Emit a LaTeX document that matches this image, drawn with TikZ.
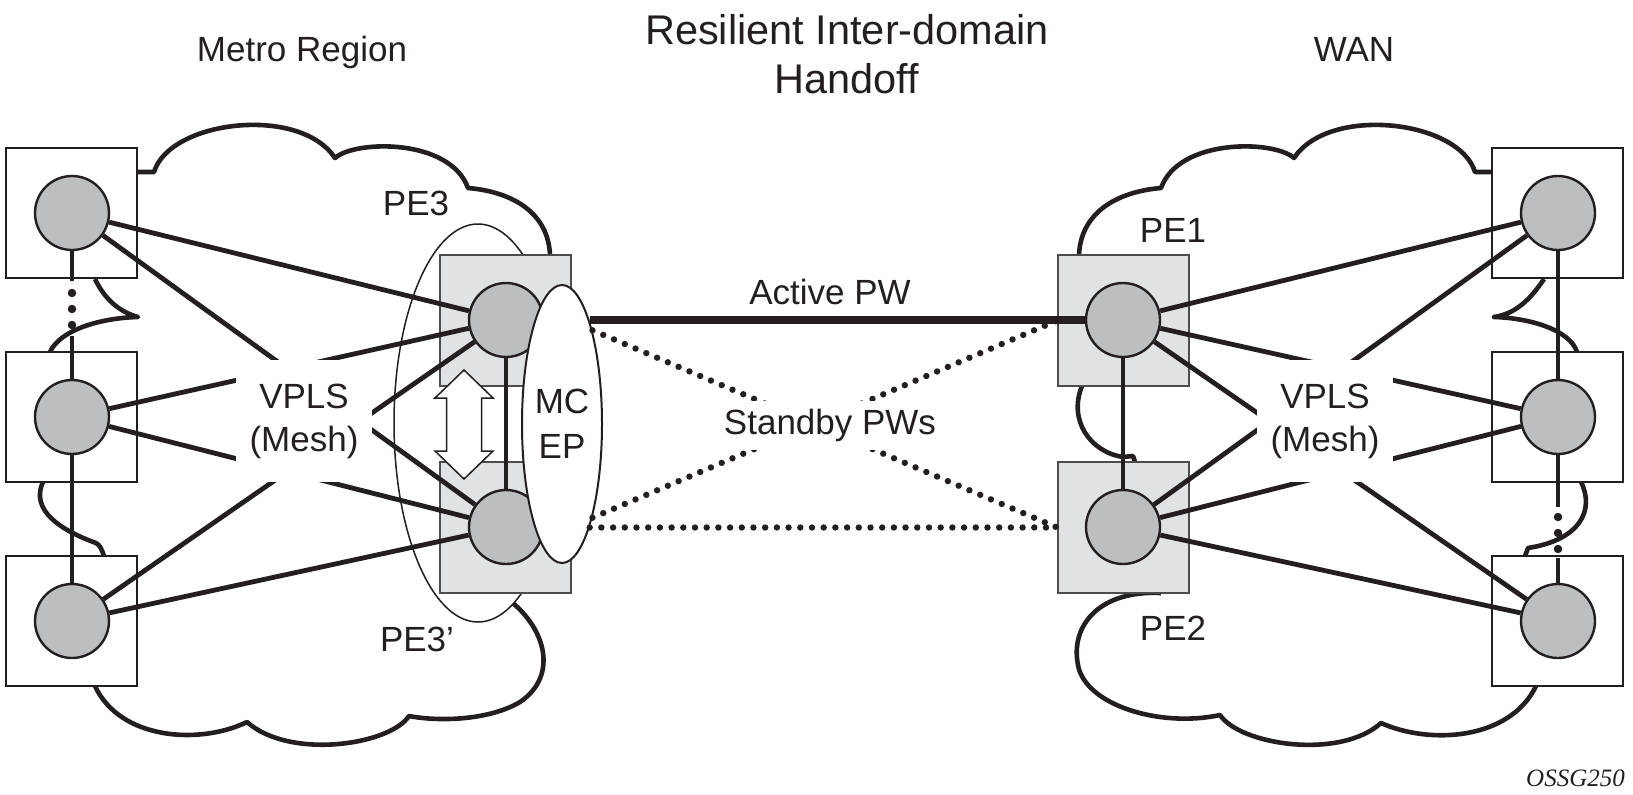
\documentclass[tikz,border=0pt]{standalone}
\usepackage{fontspec}
\setmainfont{Liberation Sans}
\newfontfamily\tnr{Liberation Serif}
\usetikzlibrary{shapes.geometric}
\definecolor{devgray}{RGB}{189,190,192}
\definecolor{boxgray}{RGB}{225,226,228}
\definecolor{ink}{RGB}{35,31,32}
\begin{document}
\begin{tikzpicture}[x=1pt,y=-1pt,
  cloudline/.style={line width=4.6pt, draw=ink, line join=round},
  wbox/.style={draw=ink, line width=2pt, fill=white, minimum width=131pt, minimum height=130pt, inner sep=0pt},
  gbox/.style={draw=ink!80, line width=1.6pt, fill=boxgray, minimum width=131pt, minimum height=131pt, inner sep=0pt},
  dev/.style={circle, draw=ink, line width=2.4pt, fill=devgray, minimum size=74pt, inner sep=0pt},
  mesh/.style={line width=4.8pt, draw=ink},
  pw/.style={line width=8pt, draw=ink},
  standby/.style={line width=6.4pt, draw=ink, dash pattern=on 0pt off 11.7pt, line cap=round},
  lbl/.style={font=\fontsize{35}{43}\selectfont, text=ink, align=center, inner sep=0pt},
  dot/.style={circle, fill=ink, inner sep=0pt, minimum size=8.5pt},
]
\useasboundingbox (0,0) rectangle (1633,795);

% clouds, left
\draw[cloudline] (137,172) -- (154,172) .. controls (170,120) and (300,105) .. (335,158) .. controls (355,140) and (450,138) .. (468,188) .. controls (515,192) and (552,215) .. (550,262);
\draw[cloudline] (95,279) .. controls (105,300) and (120,312) .. (138,317) .. controls (100,318) and (60,330) .. (50,352);
\draw[cloudline] (43,482) .. controls (30,510) and (60,530) .. (96,543) .. controls (100,545) and (102,550) .. (104,556);
\draw[cloudline] (505,597) .. controls (545,625) and (560,675) .. (520,702) .. controls (490,720) and (440,722) .. (409,716) .. controls (390,745) and (290,760) .. (247,722) .. controls (200,745) and (120,740) .. (95,686);
% clouds, right
\draw[cloudline] (1492,172) -- (1475,172) .. controls (1459,120) and (1329,105) .. (1294,158) .. controls (1274,140) and (1179,138) .. (1161,188) .. controls (1114,192) and (1077,215) .. (1079,262);
\draw[cloudline] (1082,386) .. controls (1068,420) and (1090,452) .. (1123,457) -- (1133,456) -- (1136,465);
\draw[cloudline] (1544,279) .. controls (1530,300) and (1515,314) .. (1494,317) .. controls (1530,318) and (1570,330) .. (1577,352);
\draw[cloudline] (1581,482) .. controls (1595,510) and (1580,540) .. (1528,548) -- (1525,556);
\draw[cloudline] (1161,593) .. controls (1100,590) and (1070,625) .. (1078,665) .. controls (1085,705) and (1160,728) .. (1220,715) .. controls (1240,745) and (1340,760) .. (1381,723) .. controls (1430,745) and (1510,740) .. (1536,686);

% ring round PE3 and PE3'
\node[ellipse, draw=ink, line width=1.5pt, fill=white, minimum width=168pt, minimum height=398pt, inner sep=0pt] (ring) at (478,423) {};

% boxes
\node[wbox] (bl1) at (71.5,213) {};
\node[wbox] (bl2) at (71.5,417) {};
\node[wbox] (bl3) at (71.5,621) {};
\node[wbox] (br1) at (1557.5,213) {};
\node[wbox] (br2) at (1557.5,417) {};
\node[wbox] (br3) at (1557.5,621) {};
\node[gbox] (g3) at (505.5,320.5) {};
\node[gbox] (g3b) at (505.5,527.5) {};
\node[gbox] (g1) at (1123.5,320.5) {};
\node[gbox] (g2) at (1123.5,527.5) {};

% devices
\node[dev] (l1) at (72,213) {};
\node[dev] (l2) at (72,417) {};
\node[dev] (l3) at (72,621) {};
\node[dev] (r1) at (1558,213) {};
\node[dev] (r2) at (1558,417) {};
\node[dev] (r3) at (1558,621) {};
\node[dev] (p3) at (506,320) {};
\node[dev] (p3b) at (506,527) {};
\node[dev] (p1) at (1123,320) {};
\node[dev] (p2) at (1123,527) {};

% mesh
\foreach \a in {l1,l2,l3} {\foreach \b in {p3,p3b} {\draw[mesh] (\a) -- (\b);}}
\foreach \a in {p1,p2} {\foreach \b in {r1,r2,r3} {\draw[mesh] (\a) -- (\b);}}
\draw[mesh] (p3) -- (p3b);
\draw[mesh] (p1) -- (p2);
\draw[mesh] (l2) -- (l3);
\draw[mesh] (r1) -- (r2);
\coordinate (la) at (72,281);
\coordinate (lb) at (72,336);
\draw[mesh] (l1) -- (la);
\draw[mesh] (lb) -- (l2);
\node[dot] (ld1) at (72,293) {};
\node[dot] (ld2) at (72,309) {};
\node[dot] (ld3) at (72,325) {};
\coordinate (ra) at (1558,507);
\coordinate (rb) at (1558,558);
\draw[mesh] (r2) -- (ra);
\draw[mesh] (rb) -- (r3);
\node[dot] (rd1) at (1558,517) {};
\node[dot] (rd2) at (1558,533) {};
\node[dot] (rd3) at (1558,549) {};

% MC EP
\node[ellipse, draw=ink, line width=2pt, fill=white, minimum width=80pt, minimum height=278pt, lbl, font=\fontsize{35}{45}\selectfont] (mcep) at (562,424) {MC\\EP};

% pseudowires
\draw[pw] (mcep.75 |- p1.west) -- (p1.west);
\draw[standby] (mcep.72) -- (g2.west);
\draw[standby] (mcep.-72) -- (g1.west);
\draw[standby] (mcep.-75 |- g2.west) -- (g2.west);

% redundancy arrow
\draw[draw=ink, line width=1.5pt, fill=white, line join=miter] (464,370) -- (493,398) -- (481.5,398) -- (481.5,451) -- (493,451) -- (464,479) -- (435,451) -- (446.5,451) -- (446.5,398) -- (435,398) -- cycle;

% labels
\node[lbl, fill=white, minimum width=136pt, minimum height=122pt] (vplsL) at (304,421) {VPLS\\(Mesh)};
\node[lbl, fill=white, minimum width=136pt, minimum height=122pt] (vplsR) at (1325,421) {VPLS\\(Mesh)};
\node[lbl, fill=white, inner xsep=2pt, inner ysep=8pt, anchor=base] (sb) at (830,434.5) {Standby PWs};
\node[lbl, anchor=base] (apw) at (830,304.5) {Active PW};
\node[lbl, anchor=base] (t1) at (302,61.5) {Metro Region};
\node[lbl, anchor=base] (t3) at (1354,61.5) {WAN};
\node[lbl, font=\fontsize{41.5}{49}\selectfont] (t2) at (847,54) {Resilient Inter-domain\\Handoff};
\node[lbl, anchor=base] (n3) at (416,215.6) {PE3};
\node[lbl, anchor=base] (n3b) at (417,651.6) {PE3’};
\node[lbl, anchor=base] (n1) at (1173,242.6) {PE1};
\node[lbl, anchor=base] (n2) at (1173,640.6) {PE2};
\node[font=\tnr\itshape\fontsize{25}{30}\selectfont, text=ink, inner sep=0pt, anchor=base east] (code) at (1625,786) {OSSG250};
\end{tikzpicture}
\end{document}
